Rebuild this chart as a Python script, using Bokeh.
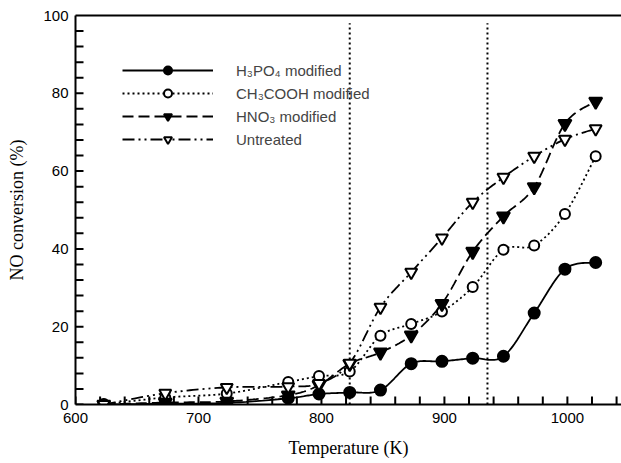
import numpy as np
from bokeh.plotting import figure
from bokeh.models import (Range1d, LinearAxis, FixedTicker, Legend, LegendItem)
from bokeh.embed import file_html
from bokeh.resources import INLINE

# ---- data ----
temperature = [623, 673, 723, 773, 798, 823, 848, 873, 898, 923, 948, 973, 998, 1023]
h3po4 = [0.0, 0.2, 0.4, 1.6, 2.7, 3.1, 3.7, 10.5, 11.1, 11.9, 12.4, 23.5, 34.8, 36.5]
ch3cooh = [0.0, 1.8, 2.8, 5.8, 7.3, 8.5, 17.7, 20.7, 23.9, 30.2, 39.8, 40.9, 49.0, 63.8]
hno3 = [0.0, 0.5, 0.8, 2.4, 5.0, 10.5, 13.4, 17.8, 25.9, 39.3, 48.4, 55.9, 72.2, 77.9]
untreated = [0.0, 2.9, 4.4, 4.6, 5.4, 10.6, 25.0, 34.0, 42.8, 52.0, 58.4, 63.8, 68.2, 70.9]
series_names = ["H\u2083PO\u2084 modified", "CH\u2083COOH modified", "HNO\u2083 modified", "Untreated"]
marker_lines = [823, 935]
x_ticks_major = [600, 700, 800, 900, 1000]
y_ticks_major = [0, 20, 40, 60, 80, 100]
x_tick_step = 20
y_tick_step = 4

W, H = 621, 463
LEFT, RIGHT, TOP, BOTTOM = 75, 0, 15, 59
X0, X1 = 600, 1044
Y0, Y1 = 0, 100


def smooth(xs, ys, n=20):
    pts = np.column_stack([xs, ys]).astype(float)
    out = []
    m = len(pts)
    for i in range(m - 1):
        p0 = pts[max(i - 1, 0)]
        p1 = pts[i]
        p2 = pts[i + 1]
        p3 = pts[min(i + 2, m - 1)]
        t = np.linspace(0, 1, n, endpoint=(i == m - 2))[:, None]
        seg = 0.5 * ((2 * p1) + (-p0 + p2) * t + (2 * p0 - 5 * p1 + 4 * p2 - p3) * t ** 2
                     + (-p0 + 3 * p1 - 3 * p2 + p3) * t ** 3)
        out.append(seg)
    arr = np.vstack(out)
    return arr[:, 0].tolist(), arr[:, 1].tolist()


p = figure(width=W, height=H, output_backend="svg", toolbar_location=None,
           x_range=Range1d(X0, X1), y_range=Range1d(Y0, Y1),
           min_border_left=LEFT, min_border_right=RIGHT, min_border_top=TOP,
           min_border_bottom=BOTTOM)
p.outline_line_color = None
p.grid.visible = False
p.background_fill_color = "white"

FONT = "Liberation Sans"
SERIF = "Liberation Serif"

for ax in (p.xaxis[0], p.yaxis[0]):
    ax.axis_line_width = 2
    ax.major_tick_in = 0
    ax.major_tick_out = 0
    ax.minor_tick_in = 0
    ax.minor_tick_out = 0
    ax.major_label_text_font = FONT
    ax.major_label_text_font_size = "15px"
    ax.major_label_text_color = "black"
    ax.axis_label_text_font = SERIF
    ax.axis_label_text_font_size = "18px"
    ax.axis_label_text_font_style = "normal"
    ax.axis_label_text_color = "black"

p.xaxis[0].ticker = FixedTicker(ticks=x_ticks_major)
p.yaxis[0].ticker = FixedTicker(ticks=y_ticks_major)
p.xaxis[0].axis_label = "Temperature (K)"
p.yaxis[0].axis_label = "NO conversion (%)"
p.xaxis[0].major_label_standoff = 8
p.xaxis[0].axis_label_standoff = 12
p.yaxis[0].major_label_standoff = 7
p.yaxis[0].axis_label_standoff = 13

top = LinearAxis(ticker=FixedTicker(ticks=[], minor_ticks=[]), major_label_text_font_size="0px",
                 axis_line_width=2, major_tick_in=0, major_tick_out=0,
                 minor_tick_in=0, minor_tick_out=0)
p.add_layout(top, "above")

# inward tick marks (major and minor share one length)
px_per_x = (W - LEFT - RIGHT) / (X1 - X0)
px_per_y = (H - TOP - BOTTOM) / (Y1 - Y0)
tick_px = 8
xt = [float(v) for v in np.arange(X0, X1, x_tick_step)]
yt = [float(v) for v in np.arange(Y0, Y1, y_tick_step)]
p.segment(x0=xt, x1=xt, y0=[float(Y0)] * len(xt), y1=[Y0 + tick_px / px_per_y] * len(xt),
          line_color="black", line_width=2)
p.segment(x0=[float(X0)] * len(yt), x1=[X0 + tick_px / px_per_x] * len(yt), y0=yt, y1=yt,
          line_color="black", line_width=2)

# vertical dotted reference lines
p.segment(x0=marker_lines, x1=marker_lines, y0=[0, 0], y1=[98, 98],
          line_color="black", line_width=2, line_dash="2 3")

styles = [
    dict(dash="solid", marker="circle", fill="black", size=11),
    dict(dash="2 3", marker="circle", fill="white", size=10),
    dict(dash="11 5", marker="inverted_triangle", fill="black", size=13),
    dict(dash="12 4 2 4 2 4", marker="inverted_triangle", fill="white", size=12),
]
items = []
for name, ys, st in zip(series_names, [h3po4, ch3cooh, hno3, untreated], styles):
    sx, sy = smooth(temperature, ys)
    lr = p.line(sx, sy, line_color="black", line_width=1.8, line_dash=st["dash"])
    mr = p.scatter(temperature, ys, marker=st["marker"], size=st["size"],
                   fill_color=st["fill"], line_color="black", line_width=2)
    items.append(LegendItem(label=name, renderers=[lr, mr]))

legend = Legend(items=items, location=(47, 255), glyph_width=91, glyph_height=20,
                label_height=20, spacing=3, padding=0, margin=0, label_standoff=23,
                border_line_color=None, background_fill_alpha=0,
                label_text_font=FONT, label_text_font_size="15px")
p.add_layout(legend, "center")

open("out.html", "w").write(file_html(p, INLINE))
